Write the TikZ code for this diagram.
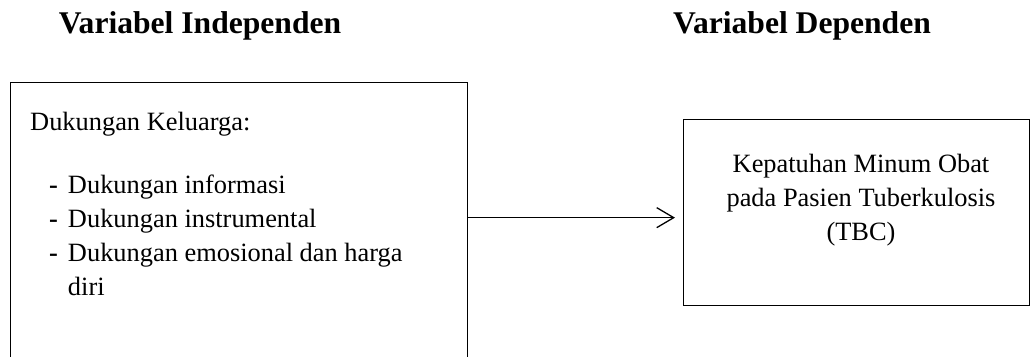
\documentclass[tikz,border=0pt]{standalone}
\usepackage{fontspec}
\setmainfont{Liberation Serif}
\usetikzlibrary{positioning, arrows.meta}

\begin{document}
\begin{tikzpicture}[x=1pt, y=-1pt, >={Straight Barb[length=17pt,width=20pt]},
        judul/.style={font=\fontsize{31.6}{38}\selectfont\bfseries, anchor=base},
        kotak/.style={draw, line width=1.3pt, inner sep=0pt},
        isi/.style={font=\fontsize{26.4}{34}\selectfont, inner sep=0pt}]
        \clip (0,0) rectangle (1030,356);

        % judul kolom
        \node[judul] (jIndep) at (200,33) {Variabel Independen};
        \node[judul] (jDep) at (802,33) {Variabel Dependen};

        % kotak variabel
        \node[kotak, minimum width=457pt, minimum height=300pt, anchor=north west] (indep) at (10,82) {};
        \node[kotak, minimum width=346pt, minimum height=186pt, anchor=north west] (dep) at (683,119) {};

        % isi kotak independen
        \node[isi, anchor=base west] (keluarga) at (30,130) {Dukungan Keluarga:};
        \node[isi, anchor=base west] (aspek) at (49,193) {\begin{tabular}[t]{@{}l@{\hspace{10pt}}l@{}}
            \textbf{-} & Dukungan informasi\\
            \textbf{-} & Dukungan instrumental\\
            \textbf{-} & Dukungan emosional dan harga\\
                       & diri
        \end{tabular}};

        % isi kotak dependen
        \node[isi, anchor=base] (kepatuhan) at (861,172) {\begin{tabular}[t]{@{}c@{}}
            Kepatuhan Minum Obat\\
            pada Pasien Tuberkulosis\\
            (TBC)
        \end{tabular}};

        % hubungan
        \coordinate (masuk) at ([yshift=-5pt]dep.west);
        \draw[->, line width=1.3pt] (masuk -| indep.east) -- ([xshift=-8pt]masuk);
    \end{tikzpicture}
\end{document}
